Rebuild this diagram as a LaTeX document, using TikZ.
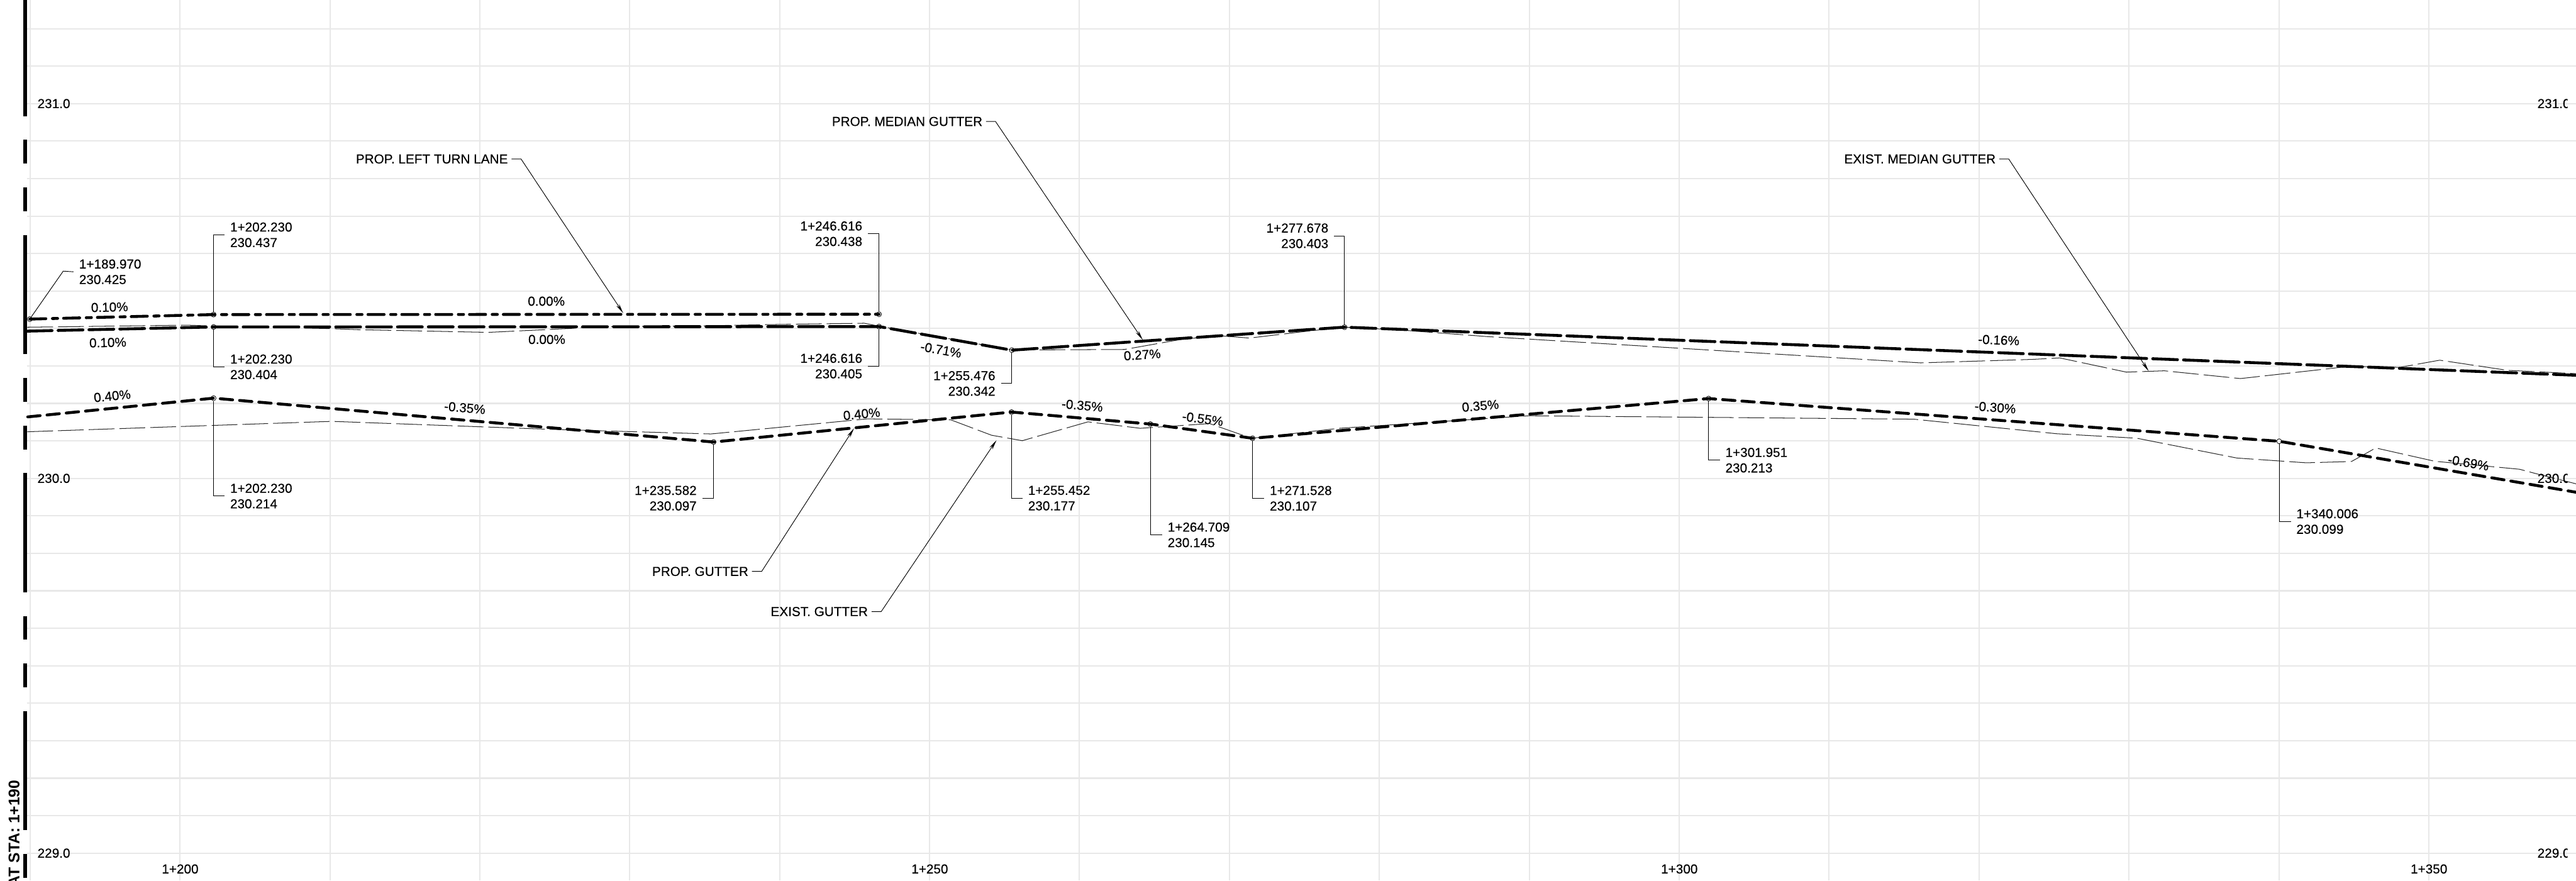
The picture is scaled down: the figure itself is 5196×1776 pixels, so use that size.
\documentclass[tikz,border=0pt]{standalone}
\usepackage{fontspec}
\setmainfont{Liberation Sans}[UprightFeatures={FakeBold=0.3}]
\usetikzlibrary{arrows.meta}
\tikzset{
  gridline/.style={draw=black!9,line width=.026cm},
  frameline/.style={line width=.08cm,dash pattern=on 2.4cm off .48cm on .48cm off .48cm on .48cm off .48cm,dash phase=.06cm},
  existline/.style={draw=black!85,line width=.013cm,dash pattern=on .52cm off .1cm,line join=round},
  laneline/.style={line width=.058cm,line cap=round,line join=round,dash pattern=on .325cm off .132cm on .105cm off .12cm},
  medianline/.style={line width=.058cm,line cap=round,line join=round,dash pattern=on .5cm off .122cm},
  gutterline/.style={line width=.058cm,line cap=round,line join=round,dash pattern=on .25cm off .14cm},
  vertexmark/.style={circle,draw,line width=.01cm,inner sep=0pt,minimum size=.1cm},
  leader/.style={line width=.012cm},
  callarrow/.style={leader,-{Stealth[length=.2cm,width=.07cm]}},
  txt/.style={font=\fontsize{7.48}{8.9}\selectfont,inner sep=0pt},
  stalabel/.style={txt,inner xsep=.106cm},
  calltext/.style={txt,inner xsep=.067cm},
}
\begin{document}
\begin{tikzpicture}[x=0.01cm,y=-0.01cm]
\useasboundingbox (0,0) rectangle (5196,1776);
\foreach \k in {0,...,16} \draw[gridline] ({60.6+302.4*\k},0) -- ({60.6+302.4*\k},1776);
\foreach \k in {-2,...,20} \draw[gridline] (54,{209+75.6*\k}) -- (5196,{209+75.6*\k});
\draw[frameline] (51,0) -- (51,1776);
\draw[existline] (55,660) -- (379,656) -- (430,657.6) -- (666,663) -- (720,665) -- (985,670.5) -- (1153,662.5) -- (1198,659) -- (1408,657.6) -- (1536,655) -- (1743,652) -- (1773,658) -- (2041,706) -- (2268,705) -- (2389,683.5) -- (2469,678) -- (2520,682) -- (2638,668) -- (2713,660) -- (2823,665.6) -- (3000,679) -- (3874,732) -- (4100,725) -- (4154.5,722) -- (4289,750.7) -- (4365.6,748) -- (4519,763.7) -- (4739.5,739) -- (4841,741) -- (4921,726.6) -- (5057.6,747) -- (5196,753.7);
\draw[existline] (55,871) -- (669.6,850) -- (1096,865.6) -- (1434,875.4) -- (1749,845) -- (1918,847) -- (2000,878) -- (2062,889) -- (2194.5,851) -- (2300,864) -- (2440,854.5) -- (2504,877) -- (2526,884) -- (2701,864) -- (3084,838.7) -- (3860,845.6) -- (4149,875) -- (4310,884) -- (4512,924) -- (4652,933.6) -- (4743,931) -- (4792,903.7) -- (4911,930.5) -- (5082,946.6) -- (5113.5,955) -- (5196,976);
\node[vertexmark] (laneA) at (60,643.7) {};
\node[vertexmark] (laneB) at (430.8,634.6) {};
\node[vertexmark] (laneC) at (1773,633.9) {};
\coordinate (medianStart) at (55,668);
\node[vertexmark] (medianA) at (430.8,659.6) {};
\node[vertexmark] (medianB) at (1773,658.8) {};
\node[vertexmark] (medianC) at (2041,706.4) {};
\node[vertexmark] (medianD) at (2712,660) {};
\coordinate (medianEnd) at (5196,757);
\coordinate (gutterStart) at (56,841);
\node[vertexmark] (gutterA) at (430.8,803.2) {};
\node[vertexmark] (gutterB) at (1439.4,891.7) {};
\node[vertexmark] (gutterC) at (2040.3,831.2) {};
\node[vertexmark] (gutterD) at (2320.2,855.4) {};
\node[vertexmark] (gutterE) at (2526.5,884.1) {};
\node[vertexmark] (gutterF) at (3446.4,804) {};
\node[vertexmark] (gutterG) at (4597.2,890.2) {};
\coordinate (gutterEnd) at (5196,993);
\draw[laneline] (laneA.center) -- (laneB.center) -- (laneC.center);
\draw[medianline] (medianStart) -- (medianA.center) -- (medianB.center) -- (medianC.center) -- (medianD.center) -- (medianEnd);
\draw[gutterline] (gutterStart) -- (gutterA.center) -- (gutterB.center) -- (gutterC.center) -- (gutterD.center) -- (gutterE.center) -- (gutterF.center) -- (gutterG.center) -- (gutterEnd);
\node[stalabel,anchor=west,align=left] (staLaneA) at (148.4,548.3) {1+189.970\\230.425};
\node[stalabel,anchor=west,align=left] (staLaneB) at (453,473.7) {1+202.230\\230.437};
\node[stalabel,anchor=east,align=right] (staLaneC) at (1750.6,471.5) {1+246.616\\230.438};
\node[stalabel,anchor=west,align=left] (staMedianA) at (453,740) {1+202.230\\230.404};
\node[stalabel,anchor=east,align=right] (staMedianB) at (1750.6,738.5) {1+246.616\\230.405};
\node[stalabel,anchor=east,align=right] (staMedianC) at (2019,773.5) {1+255.476\\230.342};
\node[stalabel,anchor=east,align=right] (staMedianD) at (2690.7,475.7) {1+277.678\\230.403};
\node[stalabel,anchor=west,align=left] (staGutterA) at (453,1000.7) {1+202.230\\230.214};
\node[stalabel,anchor=east,align=right] (staGutterB) at (1416.5,1005) {1+235.582\\230.097};
\node[stalabel,anchor=west,align=left] (staGutterC) at (2062.5,1004.8) {1+255.452\\230.177};
\node[stalabel,anchor=west,align=left] (staGutterD) at (2344,1079) {1+264.709\\230.145};
\node[stalabel,anchor=west,align=left] (staGutterE) at (2550,1005.2) {1+271.528\\230.107};
\node[stalabel,anchor=west,align=left] (staGutterF) at (3469,928.3) {1+301.951\\230.213};
\node[stalabel,anchor=west,align=left] (staGutterG) at (4620.7,1052) {1+340.006\\230.099};
\coordinate (kneeLaneA) at (127.5,547);
\draw[leader] (laneA) -- (kneeLaneA) -- (staLaneA.west);
\draw[leader] (laneB.north) |- (staLaneB.west);
\draw[leader] (laneC.north) |- (staLaneC.east);
\draw[leader] (medianA.south) |- (staMedianA.west);
\draw[leader] (medianB.south) |- (staMedianB.east);
\draw[leader] (medianC.south) |- (staMedianC.east);
\draw[leader] (medianD.north) |- (staMedianD.east);
\draw[leader] (gutterA.south) |- (staGutterA.west);
\draw[leader] (gutterB.south) |- (staGutterB.east);
\draw[leader] (gutterC.south) |- (staGutterC.west);
\draw[leader] (gutterD.south) |- (staGutterD.west);
\draw[leader] (gutterE.south) |- (staGutterE.west);
\draw[leader] (gutterF.south) |- (staGutterF.west);
\draw[leader] (gutterG.south) |- (staGutterG.west);
\node[calltext,anchor=east] (callLane) at (1031.7,320.7) {PROP. LEFT TURN LANE};
\node[calltext,anchor=east] (callMedian) at (1989,245) {PROP. MEDIAN GUTTER};
\node[calltext,anchor=east] (callExMedian) at (4032.7,320.7) {EXIST. MEDIAN GUTTER};
\node[calltext,anchor=east] (callGutter) at (1516.8,1152.7) {PROP. GUTTER};
\node[calltext,anchor=east] (callExGutter) at (1757.9,1233.7) {EXIST. GUTTER};
\coordinate (kneeLane) at (1051,320.7);
\coordinate (tipLane) at (1257,631.7);
\coordinate (kneeMedian) at (2008,245);
\coordinate (tipMedian) at (2305,685.7);
\coordinate (kneeExMedian) at (4051.7,320.7);
\coordinate (tipExMedian) at (4334,748.8);
\coordinate (kneeGutter) at (1536.4,1152.7);
\coordinate (tipGutter) at (1722.6,864);
\coordinate (kneeExGutter) at (1777.5,1233.7);
\coordinate (tipExGutter) at (2010,888);
\draw[callarrow] (callLane.east) -- (kneeLane) -- (tipLane);
\draw[callarrow] (callMedian.east) -- (kneeMedian) -- (tipMedian);
\draw[callarrow] (callExMedian.east) -- (kneeExMedian) -- (tipExMedian);
\draw[callarrow] (callGutter.east) -- (kneeGutter) -- (tipGutter);
\draw[callarrow] (callExGutter.east) -- (kneeExGutter) -- (tipExGutter);
\node[txt,rotate=1.4] (slopeLaneA) at (221,619.6) {0.10\%};
\node[txt] (slopeLaneB) at (1102,607.6) {0.00\%};
\node[txt,rotate=1.4] (slopeMedianA) at (217.5,691) {0.10\%};
\node[txt] (slopeMedianB) at (1103,684.8) {0.00\%};
\node[txt,rotate=-10] (slopeMedianC) at (1898,705.8) {-0.71\%};
\node[txt,rotate=3.9] (slopeMedianD) at (2304,715.6) {0.27\%};
\node[txt,rotate=-2.3] (slopeMedianE) at (4031.6,686) {-0.16\%};
\node[txt,rotate=5.7] (slopeGutterA) at (226.4,798.7) {0.40\%};
\node[txt,rotate=-5] (slopeGutterB) at (937.5,822.8) {-0.35\%};
\node[txt,rotate=5.7] (slopeGutterC) at (1738,835) {0.40\%};
\node[txt,rotate=-5] (slopeGutterD) at (2183,818) {-0.35\%};
\node[txt,rotate=-7.8] (slopeGutterE) at (2426,845) {-0.55\%};
\node[txt,rotate=5] (slopeGutterF) at (2986,818.6) {0.35\%};
\node[txt,rotate=-4.3] (slopeGutterG) at (4024.5,822) {-0.30\%};
\node[txt,rotate=-9.8] (slopeGutterH) at (4979,933.6) {-0.69\%};
\node[txt,anchor=west] (elevLeftA) at (75,209) {231.0};
\node[txt,anchor=west] (elevLeftB) at (75,965) {230.0};
\node[txt,anchor=west] (elevLeftC) at (75,1721) {229.0};
\begin{scope}
\clip (5100,0) rectangle (5179,1776);
\node[txt,anchor=west] (elevRightA) at (5117.5,209) {231.0};
\node[txt,anchor=west] (elevRightB) at (5117.5,965) {230.0};
\node[txt,anchor=west] (elevRightC) at (5117.5,1721) {229.0};
\end{scope}
\node[txt] (chainA) at (363.4,1753) {1+200};
\node[txt] (chainB) at (1875.4,1753) {1+250};
\node[txt] (chainC) at (3387.4,1753) {1+300};
\node[txt] (chainD) at (4899.4,1753) {1+350};
\node[inner sep=0pt,font=\fontsize{8.9}{11}\selectfont\bfseries,rotate=90,anchor=east] (sectionTitle) at (28.5,1573) {AT STA: 1+190};
\end{tikzpicture}
\end{document}
